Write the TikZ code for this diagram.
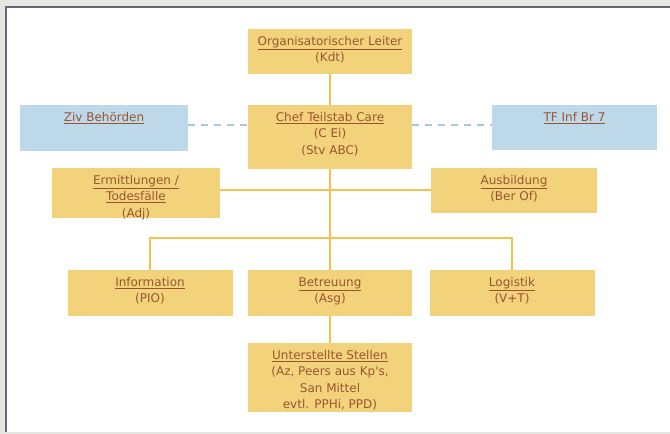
\documentclass[tikz,border=0pt]{standalone}
\usepackage{fontspec}
\setmainfont{DejaVu Sans}
\definecolor{boxfill}{HTML}{F3D27C}
\definecolor{bluefill}{HTML}{BDD8E8}
\definecolor{txt}{HTML}{9A5530}
\definecolor{linecol}{HTML}{F2C24E}
\definecolor{dashcol}{HTML}{A8C8DC}
\definecolor{outer}{HTML}{E6E6E2}
\definecolor{frame}{HTML}{6A6478}
\newcommand\bx[3]{\parbox[c][#2pt][t]{#1pt}{\centering\vspace*{7.5pt}\fontsize{12}{16.3}\selectfont\color{txt}#3\par}}
\newcommand\ul[1]{\underline{#1}}
\tikzset{
  orgbox/.style={fill=boxfill, inner sep=0pt, draw=none},
  extbox/.style={fill=bluefill, inner sep=0pt, draw=none},
  conn/.style={draw=linecol, line width=1.1pt},
  dconn/.style={draw=dashcol, line width=1.1pt, dash pattern=on 7pt off 6pt}
}
\begin{document}
\begin{tikzpicture}[x=1pt,y=-1pt]
\useasboundingbox (0,0) rectangle (670,434);
\fill[outer] (0,0) rectangle (670,434);
\fill[white] (6,7) rectangle (670,432);
\draw[frame, line width=1.2pt] (6,432) -- (6,7) -- (670,7);

\node[orgbox] (org)  at (330,51.5)  {\bx{164}{45}{\ul{Organisatorischer Leiter}\\(Kdt)}};
\node[orgbox] (chef) at (330,137)   {\bx{164}{64}{\ul{Chef Teilstab Care}\\(C Ei)\\(Stv ABC)}};
\node[extbox] (ziv)  at (104,128)   {\bx{168}{46}{\ul{Ziv Behörden}}};
\node[extbox] (tf)   at (574.5,127.5) {\bx{165}{45}{\ul{TF Inf Br 7}}};
\node[orgbox] (erm)  at (136,193)   {\bx{168}{50}{\ul{Ermittlungen /}\\\ul{Todesfälle}\\(Adj)}};
\node[orgbox] (ausb) at (514,190.5) {\bx{166}{45}{\ul{Ausbildung}\\(Ber Of)}};
\node[orgbox] (info) at (150,293)   {\bx{165}{46}{\ul{Information}\\(PIO)}};
\node[orgbox] (betr) at (330,293)   {\bx{164}{46}{\ul{Betreuung}\\(Asg)}};
\node[orgbox] (log)  at (512,293)   {\bx{165}{46}{\ul{Logistik}\\(V+T)}};
\node[orgbox] (unt)  at (330,377.5) {\bx{164}{69}{\ul{Unterstellte Stellen}\\(Az, Peers aus Kp\textquotesingle s,\\San Mittel\\evtl. PPHi, PPD)}};

\coordinate (busL) at (info.north |- 0,238);
\coordinate (busR) at (log.north |- 0,238);

\draw[dconn] (ziv.east |- 0,125) -- (chef.west |- 0,125);
\draw[dconn] (chef.east |- 0,125) -- (tf.west |- 0,125);
\draw[conn] (org.south) -- (chef.north);
\draw[conn] (chef.south) -- (betr.north);
\draw[conn] (erm.east |- 0,190) -- (ausb.west |- 0,190);
\draw[conn] (info.north) -- (busL) -- (busR) -- (log.north);
\draw[conn] (betr.south) -- (unt.north);
\end{tikzpicture}
\end{document}
